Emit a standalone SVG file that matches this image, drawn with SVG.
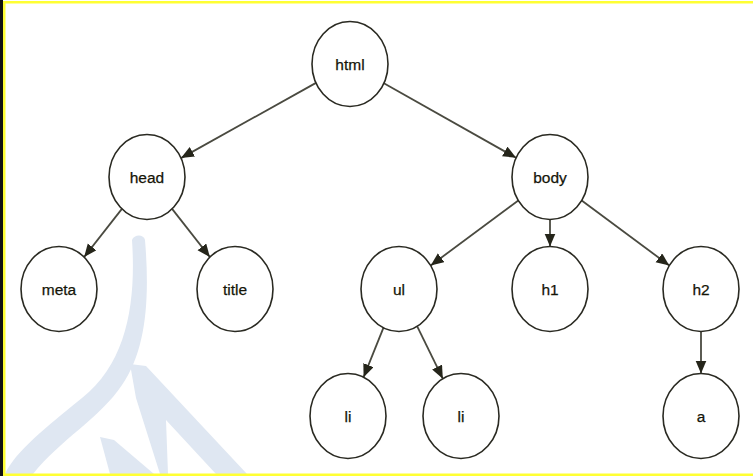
<svg xmlns="http://www.w3.org/2000/svg" width="753" height="476" viewBox="0 0 753 476">
<defs>
<style>
.node ellipse{fill:#ffffff;stroke:#2a2a22;stroke-width:1.6}
.node text{font-family:"Liberation Sans",Arial,sans-serif;font-size:15.5px;fill:#151508;stroke:#151508;stroke-width:0.25;text-anchor:middle}
.edge{stroke:#4a4a40;stroke-width:1.8;fill:none;marker-end:url(#arr)}
.wm{fill:#dfe7f2}
</style>
<marker id="arr" markerUnits="userSpaceOnUse" markerWidth="14" markerHeight="12" refX="13" refY="5.5" orient="auto">
<path d="M0,0 L13,5.5 L0,11 Z" fill="#25251a"/>
</marker>
</defs>
<rect x="0" y="0" width="753" height="476" fill="#ffffff"/>
<g id="watermark">
<path class="wm" d="M132,240 C134,234 144,234 145,240 C150,300 146,350 122,385 C100,418 60,440 33,474 L5,474 C15,452 45,428 82,398 C128,362 136,300 132,240 Z"/>
<path class="wm" d="M130,364 L146,366 L247,474 L216,474 L166,420 L168,474 L160,474 L136,398 Z"/>
<path class="wm" d="M100,437 L114,440 L154,474 L110,474 Z"/>
</g>
<g id="frame">
<rect x="0" y="0" width="3" height="476" fill="#111111"/>
<rect x="3" y="1" width="750" height="2.5" fill="#ffff33"/>
<rect x="3" y="1" width="2.5" height="475" fill="#ffff33"/>
<rect x="3" y="473.5" width="750" height="2.5" fill="#ffff33"/>
</g>
<g id="connectors">
<line class="edge" x1="316" y1="82.9" x2="181" y2="158.1"/>
<line class="edge" x1="383.9" y1="83.2" x2="516.1" y2="157.8"/>
<line class="edge" x1="121.9" y1="208.9" x2="84.1" y2="257.1"/>
<line class="edge" x1="172.1" y1="208.9" x2="209.9" y2="257.1"/>
<line class="edge" x1="518.3" y1="200.5" x2="430.7" y2="265.5"/>
<line class="edge" x1="550" y1="219.5" x2="550" y2="246.5"/>
<line class="edge" x1="581.7" y1="200.5" x2="669.3" y2="265.5"/>
<line class="edge" x1="383.4" y1="327.8" x2="363.6" y2="377.2"/>
<line class="edge" x1="417.2" y1="326.3" x2="442.8" y2="378.7"/>
<line class="edge" x1="701" y1="331.5" x2="701" y2="373.5"/>
</g>
<g id="n-html" class="node"><ellipse cx="350" cy="64" rx="38" ry="42.5"/><text x="350" y="70">html</text></g>
<g id="n-head" class="node"><ellipse cx="147" cy="177" rx="38" ry="42.5"/><text x="147" y="183">head</text></g>
<g id="n-body" class="node"><ellipse cx="550" cy="177" rx="38" ry="42.5"/><text x="550" y="183">body</text></g>
<g id="n-meta" class="node"><ellipse cx="59" cy="289" rx="38" ry="42.5"/><text x="59" y="295">meta</text></g>
<g id="n-title" class="node"><ellipse cx="235" cy="289" rx="38" ry="42.5"/><text x="235" y="295">title</text></g>
<g id="n-ul" class="node"><ellipse cx="399" cy="289" rx="38" ry="42.5"/><text x="399" y="295">ul</text></g>
<g id="n-h1" class="node"><ellipse cx="550" cy="289" rx="38" ry="42.5"/><text x="550" y="295">h1</text></g>
<g id="n-h2" class="node"><ellipse cx="701" cy="289" rx="38" ry="42.5"/><text x="701" y="295">h2</text></g>
<g id="n-li1" class="node"><ellipse cx="348" cy="416" rx="38" ry="42.5"/><text x="348" y="422">li</text></g>
<g id="n-li2" class="node"><ellipse cx="461" cy="416" rx="38" ry="42.5"/><text x="461" y="422">li</text></g>
<g id="n-a" class="node"><ellipse cx="701" cy="416" rx="38" ry="42.5"/><text x="701" y="422">a</text></g>
</svg>
